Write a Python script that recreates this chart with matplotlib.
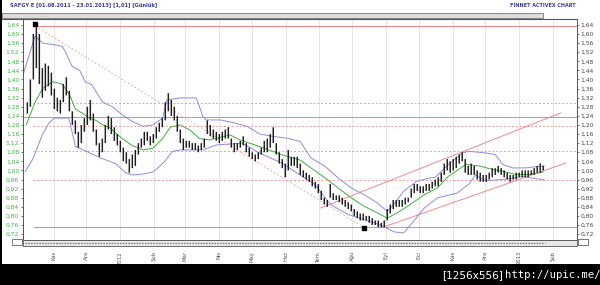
import matplotlib
matplotlib.use("Agg")
import matplotlib.pyplot as plt
import matplotlib.dates as mdates
import pandas as pd
import numpy as np
from matplotlib.patches import Rectangle
from matplotlib.lines import Line2D

# ---------------- data ----------------
title = "SAFGY E [01.08.2011 - 23.01.2013] [1,01] [Günlük]"
brand = "FİNNET ACTIVEX CHART"
watermark_a = "[1256x556]"
watermark_b = "http://upic.me/"

bar_first = "2011-10-08"
bar_last = "2013-01-23"
highs = [1.30, 1.40, 1.60, 1.635, 1.60, 1.45, 1.47, 1.46, 1.43, 1.36, 1.32, 1.31, 1.38, 1.41, 1.35, 1.26,
         1.22, 1.17, 1.20, 1.23, 1.28, 1.31, 1.25, 1.18, 1.12, 1.14, 1.20, 1.24, 1.23, 1.19, 1.16, 1.13,
         1.10, 1.08, 1.05, 1.07, 1.09, 1.12, 1.14, 1.17, 1.17, 1.15, 1.16, 1.19, 1.21, 1.23,
         1.30, 1.34, 1.31, 1.28, 1.24, 1.18, 1.14, 1.13, 1.13, 1.12, 1.12, 1.11, 1.12, 1.14, 1.22, 1.20,
         1.18, 1.17, 1.16, 1.17, 1.18, 1.19, 1.14, 1.12, 1.12, 1.13, 1.15, 1.12, 1.10, 1.08, 1.07, 1.08,
         1.10, 1.13, 1.14, 1.16, 1.19, 1.12, 1.08, 1.05, 1.03, 1.09, 1.06, 1.06, 1.06,
         1.03, 1.00, 0.99, 0.98, 0.97, 0.95, 0.94, 0.91, 0.88, 0.87, 0.94, 0.90, 0.89, 0.89, 0.88, 0.87,
         0.86, 0.85, 0.83, 0.82, 0.81, 0.81, 0.80, 0.80, 0.79, 0.78, 0.78, 0.77, 0.78, 0.83, 0.85, 0.87,
         0.87, 0.87, 0.87, 0.88, 0.88, 0.92, 0.94, 0.94, 0.93, 0.93, 0.94, 0.94, 0.95, 0.96,
         0.97, 0.99, 1.03, 1.05, 1.04, 1.05, 1.06, 1.07, 1.08, 1.05, 1.02, 1.03, 1.02, 1.00, 0.99, 0.98,
         0.98, 0.99, 1.01, 1.01, 1.02, 1.01, 1.00, 0.99, 0.98, 0.98, 0.99, 0.99, 1.00, 1.00, 1.00, 1.00,
         1.01, 1.02, 1.03, 1.02]
lows = [1.25, 1.28, 1.40, 1.45, 1.38, 1.32, 1.35, 1.37, 1.33, 1.27, 1.26, 1.25, 1.30, 1.33, 1.26, 1.20,
        1.16, 1.10, 1.12, 1.17, 1.20, 1.22, 1.17, 1.11, 1.06, 1.08, 1.12, 1.18, 1.16, 1.13, 1.11, 1.08,
        1.04, 1.03, 0.99, 1.01, 1.02, 1.07, 1.10, 1.11, 1.13, 1.11, 1.12, 1.14, 1.17, 1.19,
        1.22, 1.26, 1.24, 1.22, 1.17, 1.12, 1.09, 1.10, 1.10, 1.09, 1.09, 1.08, 1.09, 1.10, 1.16, 1.15,
        1.14, 1.13, 1.12, 1.13, 1.14, 1.14, 1.10, 1.08, 1.09, 1.10, 1.11, 1.08, 1.06, 1.05, 1.04, 1.05,
        1.07, 1.08, 1.08, 1.10, 1.12, 1.07, 1.03, 1.01, 0.97, 1.00, 1.02, 1.02, 1.01,
        0.98, 0.97, 0.96, 0.95, 0.93, 0.92, 0.90, 0.87, 0.85, 0.84, 0.88, 0.87, 0.87, 0.86, 0.85, 0.84,
        0.83, 0.82, 0.80, 0.79, 0.78, 0.78, 0.78, 0.77, 0.76, 0.76, 0.75, 0.75, 0.75, 0.78, 0.81, 0.83,
        0.84, 0.84, 0.84, 0.85, 0.86, 0.88, 0.90, 0.91, 0.90, 0.90, 0.91, 0.91, 0.92, 0.93,
        0.93, 0.95, 0.98, 1.00, 0.99, 1.00, 1.01, 1.03, 1.04, 0.99, 0.98, 0.98, 0.98, 0.96, 0.95, 0.95,
        0.95, 0.96, 0.97, 0.98, 0.99, 0.98, 0.97, 0.96, 0.95, 0.96, 0.96, 0.97, 0.97, 0.97, 0.97, 0.98,
        0.98, 0.99, 0.99, 1.00]

ma_dates = ["2011-10-07", "2011-10-15", "2011-10-22", "2011-10-31", "2011-11-09", "2011-11-16",
            "2011-11-21", "2011-11-28", "2011-12-04", "2011-12-10", "2011-12-16", "2011-12-22",
            "2011-12-28", "2012-01-03", "2012-01-12", "2012-01-22", "2012-01-31", "2012-02-09",
            "2012-02-16", "2012-02-25", "2012-03-05", "2012-03-14", "2012-03-23", "2012-04-11",
            "2012-04-20", "2012-05-08", "2012-05-29", "2012-06-14", "2012-06-24", "2012-07-07",
            "2012-07-19", "2012-07-31", "2012-08-12", "2012-08-24", "2012-09-02", "2012-09-11",
            "2012-09-23", "2012-10-06", "2012-10-18", "2012-10-28", "2012-11-13", "2012-11-25",
            "2012-12-08", "2012-12-17", "2012-12-29", "2013-01-10", "2013-01-23"]
ma_vals = [1.20, 1.30, 1.36, 1.39, 1.38, 1.33, 1.27, 1.25, 1.23, 1.22, 1.20, 1.19,
           1.165, 1.14, 1.11, 1.09, 1.097, 1.14, 1.19, 1.20, 1.178, 1.14, 1.134, 1.156,
           1.134, 1.105, 1.068, 1.046, 1.011, 0.967, 0.923, 0.879, 0.842, 0.813, 0.79, 0.813,
           0.85, 0.893, 0.923, 0.974, 1.026, 1.02, 1.004, 0.996, 0.982, 0.982, 0.993]

up_dates = ["2011-10-04", "2011-10-15", "2011-10-22", "2011-10-31", "2011-11-09", "2011-11-12",
            "2011-11-18", "2011-11-25", "2011-11-30", "2011-12-06", "2011-12-16", "2011-12-25",
            "2012-01-03", "2012-01-12", "2012-01-22", "2012-01-31", "2012-02-09", "2012-02-13",
            "2012-02-25", "2012-03-11", "2012-03-17", "2012-03-20", "2012-04-02", "2012-04-14",
            "2012-04-27", "2012-05-08", "2012-05-21", "2012-06-02", "2012-06-14", "2012-06-24",
            "2012-07-07", "2012-07-19", "2012-07-31", "2012-08-12", "2012-08-24", "2012-09-02",
            "2012-09-08", "2012-09-17", "2012-09-29", "2012-10-11", "2012-10-16", "2012-10-28",
            "2012-11-10", "2012-11-16", "2012-12-01", "2012-12-10", "2012-12-17", "2012-12-26",
            "2013-01-07", "2013-01-19", "2013-01-24"]
up_vals = [1.42, 1.59, 1.56, 1.554, 1.546, 1.52, 1.458, 1.44, 1.39, 1.377, 1.30, 1.28,
           1.245, 1.216, 1.194, 1.20, 1.23, 1.31, 1.319, 1.319, 1.236, 1.222, 1.222, 1.21,
           1.193, 1.16, 1.149, 1.142, 1.128, 1.055, 1.018, 0.967, 0.923, 0.893, 0.857, 0.82,
           0.85, 0.908, 0.952, 0.967, 0.97, 1.026, 1.077, 1.084, 1.077, 1.07, 1.026, 1.011,
           1.011, 1.018, 1.02]

lo_dates = ["2011-10-06", "2011-10-13", "2011-10-22", "2011-10-28", "2011-11-02", "2011-11-15",
            "2011-11-19", "2011-11-21", "2011-12-03", "2011-12-14", "2011-12-28", "2012-01-06",
            "2012-01-13", "2012-01-24", "2012-02-01", "2012-02-11", "2012-02-18", "2012-02-25",
            "2012-03-07", "2012-03-17", "2012-03-29", "2012-04-22", "2012-05-08", "2012-05-29",
            "2012-06-14", "2012-06-28", "2012-07-12", "2012-07-28", "2012-08-12", "2012-08-27",
            "2012-09-08", "2012-09-17", "2012-09-26", "2012-10-06", "2012-10-18", "2012-10-27",
            "2012-11-05", "2012-11-16", "2012-11-22", "2012-12-01", "2012-12-17", "2013-01-04",
            "2013-01-24"]
lo_vals = [0.995, 1.05, 1.16, 1.21, 1.23, 1.23, 1.15, 1.105, 1.08, 1.055, 1.03, 0.99,
           0.98, 0.985, 0.995, 1.04, 1.084, 1.09, 1.09, 1.09, 1.112, 1.12, 1.076, 1.031,
           0.98, 0.937, 0.85, 0.806, 0.783, 0.76, 0.73, 0.725, 0.776, 0.835, 0.879, 0.89,
           0.90, 0.94, 0.98, 0.955, 0.96, 0.973, 0.958]

h_solid_vals = [1.635, 1.235, 0.750]
h_solid_from = ["2011-10-15", "2011-10-04", "2011-10-14"]
h_dash_vals = [1.297, 1.195, 1.087, 0.958]
h_dash_from = "2011-10-13"

down_line_dates = ["2011-10-15", "2012-08-12"]
down_line_vals = [1.635, 0.748]
chan_up_dates = ["2012-07-03", "2013-02-08"]
chan_up_vals = [0.835, 1.253]
chan_lo_dates = ["2012-08-29", "2013-02-13"]
chan_lo_vals = [0.750, 1.033]
marker_dates = ["2011-10-15", "2012-08-12"]
marker_vals = [1.645, 0.745]

month_names = {1: "Oca", 2: "Şub", 3: "Mar", 4: "Nis", 5: "May", 6: "Haz", 7: "Tem",
               8: "Ağu", 9: "Eyl", 10: "Eki", 11: "Kas", 12: "Ara"}
x_min, x_max = "2011-10-04", "2013-02-23"
y_min, y_max = 0.694, 1.666
y_ticks = [round(0.72 + 0.04 * i, 2) for i in range(24)]

# ---------------- figure ----------------
W, H = 600, 285
fig = plt.figure(figsize=(6.0, 2.85), dpi=100, facecolor="white")

def fx(px):
    return px / W

def fy(py):
    return 1 - py / H

ax = fig.add_axes([fx(23), fy(240), fx(577) - fx(23), fy(19) - fy(240)])
ax.set_facecolor("white")

dates = pd.date_range(bar_first, bar_last, periods=len(highs))

# month grid
months = pd.date_range("2011-11-01", "2013-02-01", freq="MS")
for m in months:
    ax.axvline(m, color="#e0e0e0", lw=0.6, zorder=0)

# horizontal levels
for v, s in zip(h_solid_vals, h_solid_from):
    ax.plot([pd.Timestamp(s), pd.Timestamp(x_max)], [v, v], color="#f08080", lw=0.7, zorder=1)
for v in h_dash_vals:
    ax.plot([pd.Timestamp(h_dash_from), pd.Timestamp(x_max)], [v, v], color="#f29a9a", lw=0.7,
            ls=(0, (2, 2)), zorder=1)

ax.plot(pd.to_datetime(down_line_dates), down_line_vals, color="#f4a8a8", lw=0.7, ls=(0, (2, 2)), zorder=1)
ax.plot(pd.to_datetime(chan_up_dates), chan_up_vals, color="#f08a8a", lw=0.7, zorder=1)
ax.plot(pd.to_datetime(chan_lo_dates), chan_lo_vals, color="#f08a8a", lw=0.7, zorder=1)

# bands & MA
ax.plot(pd.to_datetime(up_dates), up_vals, color="#8c8ce6", lw=0.7, zorder=2)
ax.plot(pd.to_datetime(lo_dates), lo_vals, color="#8c8ce6", lw=0.7, zorder=2)
ax.plot(pd.to_datetime(ma_dates), ma_vals, color="#3fae3f", lw=0.7, zorder=2)

# price bars
bars = ax.vlines(dates, lows, highs, color="#1e1e1e", lw=1.05, zorder=3)
bars.set_snap(False)

ax.plot(pd.to_datetime(marker_dates), marker_vals, ls="none", marker="s", ms=2.6, color="black", zorder=4)

ax.set_xlim(pd.Timestamp(x_min), pd.Timestamp(x_max))
ax.set_ylim(y_min, y_max)

ax.set_yticks(y_ticks)
ax.set_yticklabels([f"{t:.2f}".replace(".", ",") for t in y_ticks])
ax.tick_params(axis="y", which="both", labelsize=4.3, length=1.5, width=0.5, pad=1.2,
               colors="#444444", labelleft=True, labelright=True, left=True, right=True)
for t in ax.yaxis.get_major_ticks():
    t.label1.set_color("#3cb83c")
    t.label2.set_color("#444444")

ax.set_xticks(months)
ax.set_xticklabels([str(m.year) if m.month == 1 else month_names[m.month] for m in months],
                   rotation=90, fontsize=3.8, color="#555555")
ax.tick_params(axis="x", length=0, pad=8)

for sp in ax.spines.values():
    sp.set_color("#555555")
    sp.set_linewidth(0.7)

# header texts
fig.text(fx(10), fy(5.5), title, fontsize=3.7, fontweight="bold", color="#3a3aa0", va="center", ha="left")
fig.text(fx(576), fy(5.5), brand, fontsize=3.5, fontweight="bold", color="#3a3aa0", va="center", ha="right")

# top scrollbar
fig.add_artist(Rectangle((fx(2), fy(18)), fx(543) - fx(2), fy(13) - fy(18), transform=fig.transFigure,
                         facecolor="#dcdcdc", edgecolor="#777777", lw=0.6))
fig.add_artist(Line2D([fx(2), fx(577)], [fy(18.7), fy(18.7)], transform=fig.transFigure, color="#555555", lw=0.8))

# bottom strip
fig.add_artist(Rectangle((fx(23), fy(245.5)), fx(577) - fx(23), fy(240) - fy(245.5), transform=fig.transFigure,
                         facecolor="#e8e8e8", edgecolor="#555555", lw=0.6))
fig.add_artist(Line2D([fx(25), fx(545)], [fy(243), fy(243)], transform=fig.transFigure, color="#33aa33",
                      lw=0.8, ls=(0, (1.5, 1))))
fig.add_artist(Rectangle((fx(12), fy(245)), fx(10), fy(239) - fy(245), transform=fig.transFigure,
                         facecolor="white", edgecolor="#444444", lw=0.5))
fig.add_artist(Rectangle((fx(578), fy(245)), fx(10), fy(239) - fy(245), transform=fig.transFigure,
                         facecolor="white", edgecolor="#444444", lw=0.5))

# black frame & watermark
fig.add_artist(Rectangle((0, 0), 1, fy(264), transform=fig.transFigure, facecolor="black", edgecolor="none"))
fig.add_artist(Rectangle((0, 0), fx(2), 1, transform=fig.transFigure, facecolor="black", edgecolor="none"))
fig.text(fx(503), fy(275), watermark_a, fontsize=7.6, color="white", ha="right", va="center",
         family="DejaVu Sans")
fig.text(fx(505), fy(275), watermark_b, fontsize=7.6, color="white", ha="left", va="center",
         family="DejaVu Sans Mono")

fig.savefig("out.png", dpi=100, facecolor=fig.get_facecolor())
